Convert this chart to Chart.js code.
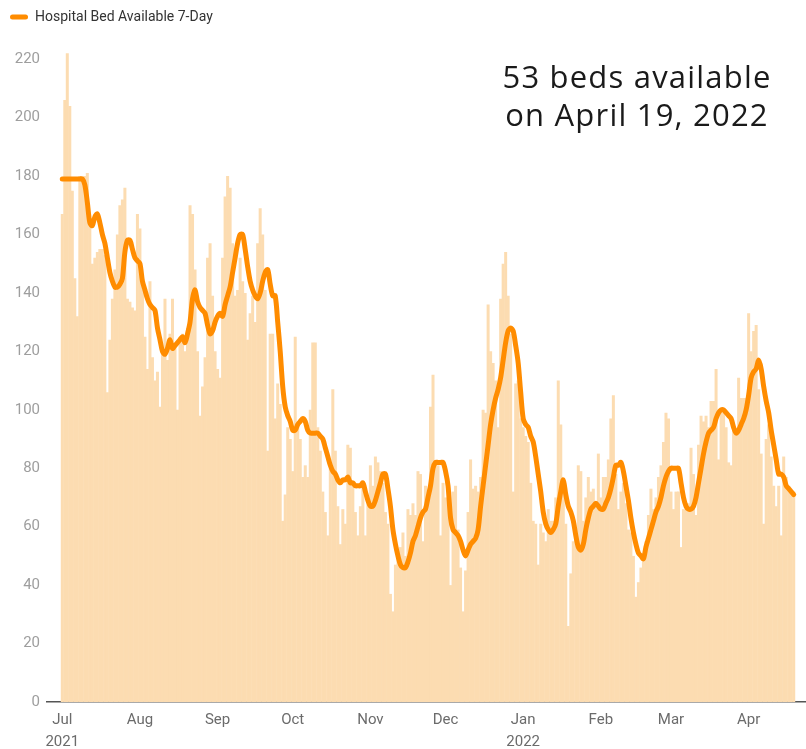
<!DOCTYPE html>
<html>
<head>
<meta charset="utf-8">
<title>Hospital Bed Available</title>
<script src="https://cdn.jsdelivr.net/npm/chart.js@4.4.0/dist/chart.umd.min.js"></script>
<style>
  html, body { margin: 0; padding: 0; background: #fff; }
  #wrap { position: relative; width: 806px; height: 749px; }
  #note {
    position: absolute; left: 477px; top: 57px; width: 320px;
    text-align: center; font-family: 'Open Sans', sans-serif;
    font-size: 31px; letter-spacing: 1.2px; line-height: 38px; color: #1a1a1a;
  }
</style>
</head>
<body>
<div id="wrap">
  <canvas id="bedsChart" width="806" height="749"></canvas>
  <div id="note">53 beds available<br>on April 19, 2022</div>
</div>
<script>
// one value per day, 2021-07-01 .. 2022-04-19
const seriesLabel = 'Hospital Bed Available 7-Day'

const dailyBeds = [
  // Jul
  167, 206, 222, 204, 175, 145, 132, 180, 178, 180, 181, 164, 150, 152, 154, 155, 155, 153, 106, 124,
  138, 148, 160, 170, 172, 176, 138, 137, 135, 134, 167,
  // Aug
  162, 145, 125, 114, 144, 118, 110, 113, 101, 120, 138, 117, 126, 138, 122, 100, 124, 126, 120, 128,
  170, 167, 148, 120, 98, 108, 118, 152, 157, 139, 120,
  // Sep
  114, 111, 152, 173, 180, 176, 157, 139, 141, 152, 144, 140, 124, 133, 139, 130, 157, 169, 160, 141,
  86, 126, 126, 97, 109, 102, 62, 71, 94, 90,
  // Oct
  79, 125, 96, 90, 77, 81, 77, 100, 123, 123, 94, 86, 72, 65, 57, 81, 107, 86, 67, 54,
  66, 61, 88, 87, 74, 65, 57, 67, 74, 57, 70,
  // Nov
  81, 74, 84, 82, 79, 75, 65, 61, 37, 31, 47, 49, 53, 58, 50, 66, 64, 68, 64, 79,
  78, 55, 74, 72, 101, 112, 82, 81, 57, 75,
  // Dec
  70, 68, 40, 72, 74, 59, 46, 31, 45, 65, 83, 73, 74, 72, 77, 100, 99, 136, 120, 116,
  110, 94, 138, 150, 154, 139, 126, 72, 109, 110, 97,
  // Jan
  94, 91, 89, 75, 62, 61, 47, 61, 58, 55, 66, 62, 62, 70, 110, 95, 72, 61, 26, 44,
  55, 57, 81, 79, 62, 70, 77, 72, 73, 68, 85,
  // Feb
  70, 77, 77, 83, 97, 105, 78, 66, 72, 75, 68, 59, 58, 50, 36, 41, 46, 50, 55, 64,
  73, 66, 70, 77, 81, 89, 99, 97,
  // Mar
  72, 66, 72, 72, 53, 66, 68, 68, 87, 78, 64, 88, 98, 96, 98, 94, 103, 103, 114, 83,
  100, 100, 94, 82, 81, 93, 93, 111, 104, 104, 104,
  // Apr
  133, 120, 127, 129, 107, 85, 61, 90, 95, 84, 74, 67, 74, 57, 84, 77, 74, 72, 72
]

const sevenDayAvg = [
  // Jul
  179, 179, 179, 179, 179, 179, 179, 179, 179, 177, 171, 164, 163, 166, 167, 164, 160, 157, 152, 147,
  144, 142, 142, 143, 145, 154, 158, 158, 155, 152, 151,
  // Aug
  150, 144, 141, 138, 136, 135, 134, 128, 124, 120, 119, 121, 124, 121, 122, 123, 124, 125, 123, 126,
  130, 138, 141, 137, 135, 134, 133, 129, 126, 127, 130,
  // Sep
  132, 133, 132, 136, 139, 142, 147, 152, 157, 160, 160, 155, 149, 144, 141, 139, 138, 140, 144, 147,
  148, 143, 139, 139, 130, 120, 108, 101, 98, 96,
  // Oct
  93, 93, 95, 96, 97, 96, 93, 92, 92, 92, 92, 91, 90, 87, 84, 81, 79, 78, 76, 75,
  76, 76, 77, 75, 75, 74, 74, 74, 75, 72, 69,
  // Nov
  67, 67, 69, 72, 75, 78, 78, 73, 67, 59, 54, 50, 47, 46, 46, 48, 51, 55, 57, 60,
  63, 65, 66, 70, 74, 80, 82, 82, 82, 82,
  // Dec
  79, 74, 63, 59, 58, 57, 55, 52, 50, 52, 54, 55, 56, 59, 67, 74, 81, 88, 95, 100,
  104, 107, 111, 117, 123, 127, 128, 127, 122, 116, 106,
  // Jan
  97, 95, 94, 91, 89, 84, 78, 72, 65, 61, 59, 58, 59, 61, 67, 72, 76, 71, 67, 65,
  62, 57, 53, 52, 54, 59, 63, 66, 67, 68, 67,
  // Feb
  66, 66, 68, 70, 73, 77, 81, 81, 82, 79, 74, 69, 63, 58, 54, 51, 50, 49, 53, 56,
  59, 62, 65, 67, 70, 74, 77, 79,
  // Mar
  80, 80, 80, 80, 75, 70, 67, 66, 66, 67, 70, 75, 80, 85, 89, 92, 93, 94, 97, 99,
  100, 100, 99, 98, 97, 94, 92, 93, 95, 97, 100,
  // Apr
  105, 111, 113, 114, 117, 114, 108, 103, 99, 93, 88, 83, 78, 78, 77, 74, 73, 72, 71
]

// day index of each month start, and its label
const monthStarts = [0, 31, 62, 92, 123, 153, 184, 215, 243, 274]
const monthLabels = [['Jul', '2021'], 'Aug', 'Sep', 'Oct', 'Nov', 'Dec', ['Jan', '2022'], 'Feb', 'Mar', 'Apr']
const yTicks = [0, 20, 40, 60, 80, 100, 120, 140, 160, 180, 200, 220]

const ORANGE = '#ff8c00'
const PEACH = '#fcdcb1'

const toPoints = (arr) => arr.map((v, i) => ({ x: i, y: v }))

new Chart(document.getElementById('bedsChart'), {
  type: 'bar',
  data: {
    datasets: [
      {
        type: 'line',
        label: seriesLabel,
        data: toPoints(sevenDayAvg),
        borderColor: ORANGE,
        backgroundColor: ORANGE,
        borderWidth: 5,
        pointRadius: 0,
        tension: 0.3,
        borderCapStyle: 'round',
        borderJoinStyle: 'round',
        order: 0,
      },
      {
        type: 'bar',
        label: 'Daily',
        data: toPoints(dailyBeds),
        backgroundColor: PEACH,
        borderWidth: 0,
        inflateAmount: 0,
        barPercentage: 1.2,
        categoryPercentage: 1,
        order: 1,
      },
    ],
  },
  options: {
    responsive: false,
    animation: false,
    devicePixelRatio: 1,
    layout: { padding: 0 },
    plugins: {
      legend: {
        position: 'top',
        align: 'start',
        labels: {
          boxWidth: 18,
          boxHeight: 5,
          useBorderRadius: true,
          borderRadius: 2.5,
          padding: 10,
          color: '#333',
          font: { family: 'Roboto', size: 14 },
          generateLabels: (chart) =>
            Chart.defaults.plugins.legend.labels.generateLabels(chart)
              .filter((l) => l.datasetIndex === 0)
              .map((l) => Object.assign(l, { lineWidth: 0 })),
        },
      },
      tooltip: { enabled: false },
    },
    scales: {
      x: {
        type: 'linear',
        min: -6.1,
        max: 296.9,
        offset: false,
        grid: { display: false, drawTicks: false },
        border: { display: true, color: '#555', width: 1.5 },
        afterBuildTicks: (s) => { s.ticks = monthStarts.map((v) => ({ value: v })) },
        afterFit: (s) => { s.height = 47 },
        ticks: {
          autoSkip: false,
          maxRotation: 0,
          padding: 7,
          color: '#6b6b6b',
          font: { family: 'Roboto', size: 15, lineHeight: 1.47 },
          callback: (v, i) => monthLabels[i],
        },
      },
      y: {
        min: 0,
        max: 228.6,
        grid: { display: false, drawTicks: false },
        border: { display: false },
        afterBuildTicks: (s) => { s.ticks = yTicks.map((v) => ({ value: v })) },
        afterFit: (s) => { s.width = 47 },
        ticks: {
          padding: 7,
          color: '#9e9e9e',
          font: { family: 'Roboto', size: 15 },
        },
      },
    },
  },
})
</script>
</body>
</html>
